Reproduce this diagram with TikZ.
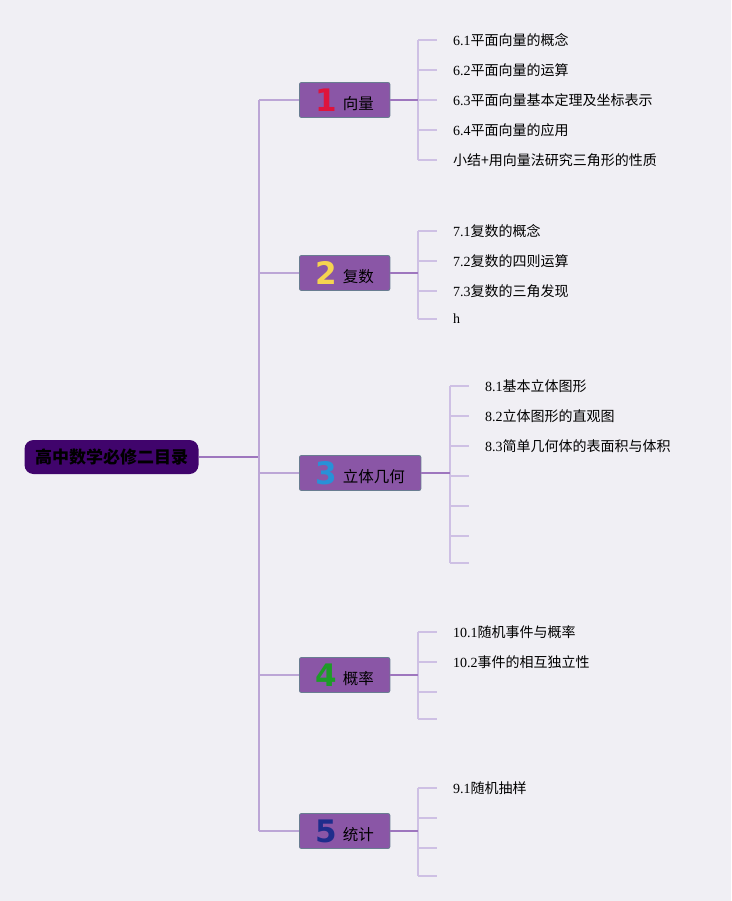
\documentclass[tikz,border=0pt]{standalone}
\usepackage{fontspec}
\setmainfont{Liberation Serif}
\newfontfamily\cjk{Noto Sans CJK SC}
\newfontfamily\numfont{DejaVu Sans}
\newcommand{\zh}[1]{{\cjk #1}}
\newcommand{\topicitem}[3]{{\numfont\bfseries\fontsize{31}{31}\selectfont\color{#1}#2}\hspace{6pt}\raisebox{2pt}{#3}}

\definecolor{bgcol}{RGB}{240,239,244}
\definecolor{rootcol}{RGB}{64,4,108}
\definecolor{topiccol}{RGB}{138,86,166}
\definecolor{topicedge}{RGB}{105,125,145}
\definecolor{linemain}{RGB}{188,166,214}
\definecolor{linedark}{RGB}{158,118,190}
\definecolor{linelight}{RGB}{206,192,228}
\definecolor{numred}{RGB}{222,20,60}
\definecolor{numyellow}{RGB}{245,212,80}
\definecolor{numblue}{RGB}{40,145,215}
\definecolor{numgreen}{RGB}{30,155,40}
\definecolor{numnavy}{RGB}{30,45,140}

\tikzset{
  rootbox/.style={fill=rootcol, rounded corners=9pt, minimum width=174pt,
    minimum height=34pt, inner sep=0pt, text=black,
    font=\cjk\bfseries\fontsize{17}{17}\selectfont},
  topicbox/.style={anchor=west, fill=topiccol, draw=topicedge, line width=0.8pt,
    rounded corners=2pt, minimum height=35pt, inner xsep=16pt, inner ysep=0pt,
    text=black, font=\cjk\fontsize{15.5}{16}\selectfont},
  leafbox/.style={anchor=west, inner xsep=16pt, inner ysep=2pt, text=black,
    font=\fontsize{14}{16}\selectfont},
  trunkline/.style={draw=linemain, line width=1.6pt},
  darkline/.style={draw=linedark, line width=1.8pt},
  tickline/.style={draw=linelight, line width=1.6pt}
}

\begin{document}
\begin{tikzpicture}[x=1pt,y=-1pt]

\fill[bgcol] (0,0) rectangle (731,901);
\useasboundingbox (0,0) rectangle (731,901);

% root and topics
\node[rootbox] (root) at (111.5,457) {高中数学必修二目录};

\node[topicbox] (t1) at (299,100) {\topicitem{numred}{1}{向量}};
\node[topicbox] (t2) at (299,273) {\topicitem{numyellow}{2}{复数}};
\node[topicbox] (t3) at (299,473) {\topicitem{numblue}{3}{立体几何}};
\node[topicbox] (t4) at (299,675) {\topicitem{numgreen}{4}{概率}};
\node[topicbox] (t5) at (299,831) {\topicitem{numnavy}{5}{统计}};

% leaves
\node[leafbox] (l11) at (437,40) {6.1\zh{平面向量的概念}};
\node[leafbox] (l12) at (437,70) {6.2\zh{平面向量的运算}};
\node[leafbox] (l13) at (437,100) {6.3\zh{平面向量基本定理及坐标表示}};
\node[leafbox] (l14) at (437,130) {6.4\zh{平面向量的应用}};
\node[leafbox] (l15) at (437,160) {\zh{小结+用向量法研究三角形的性质}};

\node[leafbox] (l21) at (437,231) {7.1\zh{复数的概念}};
\node[leafbox] (l22) at (437,261) {7.2\zh{复数的四则运算}};
\node[leafbox] (l23) at (437,291) {7.3\zh{复数的三角发现}};
\node[leafbox] (l24) at (437,319) {h};

\node[leafbox] (l31) at (469,386) {8.1\zh{基本立体图形}};
\node[leafbox] (l32) at (469,416) {8.2\zh{立体图形的直观图}};
\node[leafbox] (l33) at (469,446) {8.3\zh{简单几何体的表面积与体积}};
\node[leafbox] (l34) at (469,476) {};
\node[leafbox] (l35) at (469,506) {};
\node[leafbox] (l36) at (469,536) {};
\node[leafbox] (l37) at (469,563) {};

\node[leafbox] (l41) at (437,632) {10.1\zh{随机事件与概率}};
\node[leafbox] (l42) at (437,662) {10.2\zh{事件的相互独立性}};
\node[leafbox] (l43) at (437,692) {};
\node[leafbox] (l44) at (437,719) {};

\node[leafbox] (l51) at (437,788) {9.1\zh{随机抽样}};
\node[leafbox] (l52) at (437,818) {};
\node[leafbox] (l53) at (437,848) {};
\node[leafbox] (l54) at (437,876) {};

% main trunk
\coordinate (trunk) at (259,457);
\draw[darkline] (root.east) -- (trunk);
\draw[trunkline] (trunk |- t1.west) -- (trunk |- t5.west);
\draw[trunkline] (trunk |- t1.west) -- (t1.west);
\draw[trunkline] (trunk |- t2.west) -- (t2.west);
\draw[trunkline] (trunk |- t3.west) -- (t3.west);
\draw[trunkline] (trunk |- t4.west) -- (t4.west);
\draw[trunkline] (trunk |- t5.west) -- (t5.west);

% sub trunks
\coordinate (s1) at (418,100);
\coordinate (s2) at (418,273);
\coordinate (s3) at (450,473);
\coordinate (s4) at (418,675);
\coordinate (s5) at (418,831);

\draw[tickline] (s1 |- l11.west) -- (s1 |- l15.west);
\draw[tickline] (s2 |- l21.west) -- (s2 |- l24.west);
\draw[tickline] (s3 |- l31.west) -- (s3 |- l37.west);
\draw[tickline] (s4 |- l41.west) -- (s4 |- l44.west);
\draw[tickline] (s5 |- l51.west) -- (s5 |- l54.west);

\draw[darkline] (t1.east) -- (s1);
\draw[darkline] (t2.east) -- (s2);
\draw[darkline] (t3.east) -- (s3);
\draw[darkline] (t4.east) -- (s4);
\draw[darkline] (t5.east) -- (s5);

% ticks
\draw[tickline] (s1 |- l11.west) -- (l11.west);
\draw[tickline] (s1 |- l12.west) -- (l12.west);
\draw[tickline] (s1 |- l13.west) -- (l13.west);
\draw[tickline] (s1 |- l14.west) -- (l14.west);
\draw[tickline] (s1 |- l15.west) -- (l15.west);

\draw[tickline] (s2 |- l21.west) -- (l21.west);
\draw[tickline] (s2 |- l22.west) -- (l22.west);
\draw[tickline] (s2 |- l23.west) -- (l23.west);
\draw[tickline] (s2 |- l24.west) -- (l24.west);

\draw[tickline] (s3 |- l31.west) -- (l31.west);
\draw[tickline] (s3 |- l32.west) -- (l32.west);
\draw[tickline] (s3 |- l33.west) -- (l33.west);
\draw[tickline] (s3 |- l34.west) -- (l34.west);
\draw[tickline] (s3 |- l35.west) -- (l35.west);
\draw[tickline] (s3 |- l36.west) -- (l36.west);
\draw[tickline] (s3 |- l37.west) -- (l37.west);

\draw[tickline] (s4 |- l41.west) -- (l41.west);
\draw[tickline] (s4 |- l42.west) -- (l42.west);
\draw[tickline] (s4 |- l43.west) -- (l43.west);
\draw[tickline] (s4 |- l44.west) -- (l44.west);

\draw[tickline] (s5 |- l51.west) -- (l51.west);
\draw[tickline] (s5 |- l52.west) -- (l52.west);
\draw[tickline] (s5 |- l53.west) -- (l53.west);
\draw[tickline] (s5 |- l54.west) -- (l54.west);

\end{tikzpicture}
\end{document}
